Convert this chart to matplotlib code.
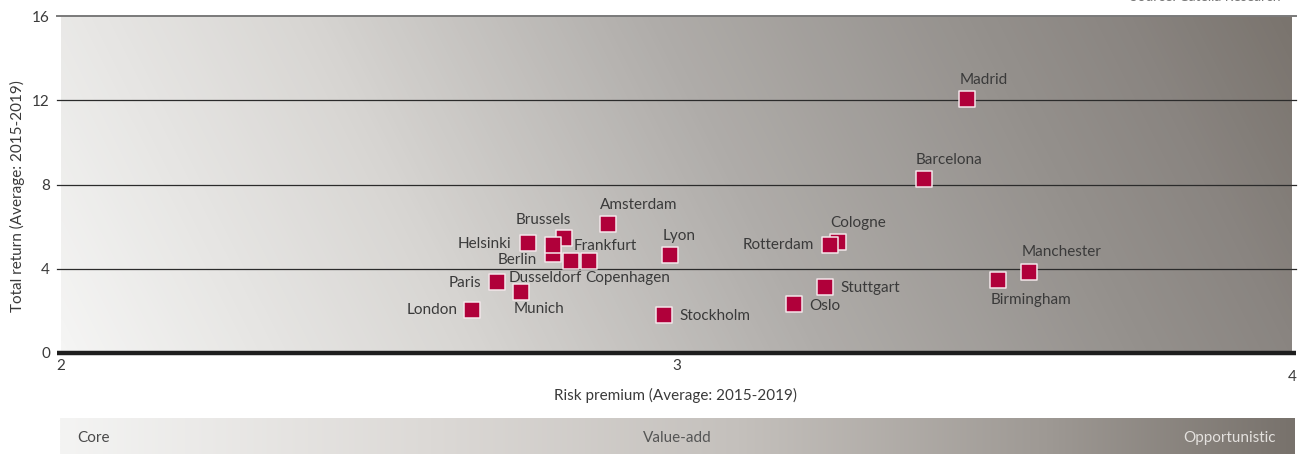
import numpy as np
import matplotlib.pyplot as plt
from matplotlib.colors import LinearSegmentedColormap
from matplotlib.transforms import ScaledTranslation

plt.rcParams['font.family'] = ['Lato', 'DejaVu Sans']

# risk premium vs total return, average 2015-2019
cities = ['London', 'Paris', 'Munich', 'Helsinki', 'Brussels', 'Berlin',
          'Frankfurt', 'Dusseldorf', 'Copenhagen', 'Amsterdam', 'Lyon',
          'Stockholm', 'Oslo', 'Stuttgart', 'Cologne', 'Rotterdam',
          'Birmingham', 'Manchester', 'Barcelona', 'Madrid']
risk_premium = [2.668, 2.708, 2.748, 2.758, 2.818, 2.799,
                2.799, 2.829, 2.858, 2.889, 2.990,
                2.979, 3.191, 3.241, 3.262, 3.250,
                3.522, 3.573, 3.402, 3.472]
total_return = [2.03, 3.39, 2.91, 5.21, 5.47, 4.69,
                5.11, 4.37, 4.37, 6.14, 4.64,
                1.82, 2.33, 3.12, 5.26, 5.11,
                3.48, 3.85, 8.25, 12.05]

y_ticks = [0, 4, 8, 12, 16]
x_ticks = [2, 3, 4]
segments = ['Core', 'Value-add', 'Opportunistic']

# label placement in pixels from the marker centre (dx, dy up, alignment)
label_pos = {
    'London': (-15, 0, 'right'), 'Paris': (-16, -1, 'right'),
    'Munich': (-8, -17, 'left'), 'Helsinki': (-16, -1, 'right'),
    'Brussels': (7, 18, 'right'), 'Berlin': (-16, -6, 'right'),
    'Frankfurt': (21, -1, 'left'), 'Dusseldorf': (11, -17, 'right'),
    'Copenhagen': (-4, -17, 'left'), 'Amsterdam': (-8, 19, 'left'),
    'Lyon': (-8, 19, 'left'), 'Stockholm': (16, -1, 'left'),
    'Oslo': (15, -2, 'left'), 'Stuttgart': (16, -1, 'left'),
    'Cologne': (-8, 19, 'left'), 'Rotterdam': (-16, 0, 'right'),
    'Birmingham': (-7, -20, 'left'), 'Manchester': (-8, 20, 'left'),
    'Barcelona': (-8, 19, 'left'), 'Madrid': (-7, 19, 'left'),
}

text_col = '#3a3a3a'
# plot background: light bottom-left, dark top-right
plot_cmap = LinearSegmentedColormap.from_list('plotbg', [
    (0.0, '#f5f5f4'), (0.29, '#d8d6d3'), (0.54, '#b0adaa'),
    (0.77, '#95918d'), (0.88, '#8a8581'), (1.0, '#7a746e')])
band_cmap = LinearSegmentedColormap.from_list('bandbg', [
    (0.0, '#f4f4f3'), (0.3, '#dcd9d6'), (0.55, '#c4c0bc'),
    (0.8, '#9e9994'), (1.0, '#78726c')])

gx, gy = np.meshgrid(np.linspace(0, 1, 400), np.linspace(0, 1, 100))
plot_ramp = 0.88 * gx + 0.12 * gy
band_ramp = np.linspace(0, 1, 512).reshape(1, -1)

fig = plt.figure(figsize=(13.03, 4.54), dpi=100)
ax = fig.add_axes([61 / 1303, 101 / 454, 1231 / 1303, 337 / 454])

ax.imshow(plot_ramp, cmap=plot_cmap, aspect='auto', extent=[2, 4, 0, 16],
          origin='lower', zorder=0, interpolation='bicubic', vmin=0, vmax=1)
ax.set_xlim(2, 4)
ax.set_ylim(0, 16)
for s in ax.spines.values():
    s.set_visible(False)

ytr = ax.get_yaxis_transform()
for y in y_ticks:
    if y == 0:
        ax.plot([-0.003, 1.003], [y, y], transform=ytr, color='#1e1e1e',
                lw=3.2, clip_on=False, zorder=2, solid_capstyle='butt')
    elif y == 16:
        ax.plot([-0.003, 1.003], [y, y], transform=ytr, color='#7a7a7a',
                lw=1.4, clip_on=False, zorder=2)
    else:
        ax.plot([-0.003, 1.003], [y, y], transform=ytr, color='#2b2b2b',
                lw=0.9, clip_on=False, zorder=2)

ax.set_yticks(y_ticks)
ax.set_xticks(x_ticks)
ax.tick_params(axis='y', length=0, pad=8, labelsize=11, labelcolor=text_col)
ax.tick_params(axis='x', length=0, pad=4, labelsize=11, labelcolor=text_col)
last = ax.get_xticklabels()[-1]
last.set_transform(last.get_transform() +
                   ScaledTranslation(0, -0.11, fig.dpi_scale_trans))

ax.scatter(risk_premium, total_return, marker='s', s=135, color='#b0003a',
           edgecolors='#f3e6ea', linewidths=1.1, zorder=4)

for name, x, y in zip(cities, risk_premium, total_return):
    dx, dy, ha = label_pos[name]
    ax.annotate(name, (x, y), xytext=(dx * 0.72, dy * 0.72),
                textcoords='offset points', ha=ha, va='center',
                fontsize=11, color=text_col, zorder=5)

fig.text(17 / 1303, 1 - 196 / 454, 'Total return (Average: 2015-2019)',
         rotation=90, ha='center', va='center', fontsize=11, color=text_col)
fig.text(676 / 1303, 1 - 395 / 454, 'Risk premium (Average: 2015-2019)',
         ha='center', va='center', fontsize=11, color=text_col)
fig.text(1280 / 1303, 1 + 3 / 454, 'Source: Catella Research',
         ha='right', va='center', fontsize=10, color='#777777')

# investment style band underneath
band = fig.add_axes([60 / 1303, 0, 1235 / 1303, 36 / 454])
band.imshow(band_ramp, cmap=band_cmap, aspect='auto', extent=[0, 1, 0, 1],
            interpolation='bicubic')
band.set_xlim(0, 1)
band.set_ylim(0, 1)
band.axis('off')
band.text(17 / 1235, 0.45, segments[0], ha='left', va='center',
          fontsize=11, color='#4a4a4a')
band.text(617 / 1235, 0.45, segments[1], ha='center', va='center',
          fontsize=11, color='#555555')
band.text(1216 / 1235, 0.45, segments[2], ha='right', va='center',
          fontsize=11, color='#e4e1de')

fig.savefig('out.png', dpi=100)
